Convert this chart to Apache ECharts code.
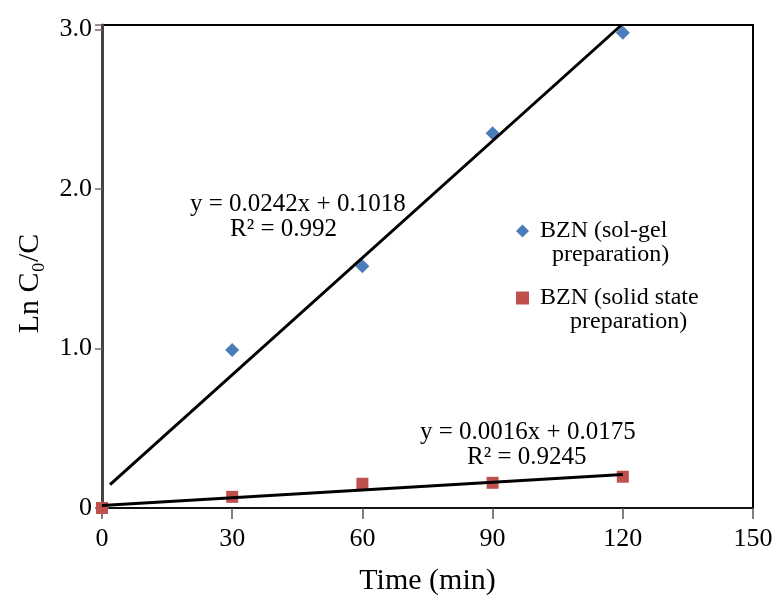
<!DOCTYPE html>
<html>
<head>
<meta charset="utf-8">
<script src="https://cdn.jsdelivr.net/npm/echarts@6/dist/echarts.min.js"></script>
<style>html,body{margin:0;padding:0;background:#fff;}#c{width:776px;height:601px;}</style>
</head>
<body>
<div id="c"></div>
<script>
// ---- data ----
var seriesNames = ['BZN (sol-gel', 'BZN (solid state'];
var legendSecondLines = ['   preparation)', '      preparation)'];
var solGel = [[0, 0], [30, 0.99], [60, 1.515], [90, 2.35], [120, 2.98]];
var solidState = [[0, 0], [30, 0.07], [60, 0.152], [90, 0.158], [120, 0.196]];
var solGelTrend = [[1.85, 0.147], [119.7, 3.028]];
var solidTrend = [[0, 0.016], [120, 0.21]];
var xTicks = [0, 30, 60, 90, 120, 150];
var yTicks = [0, 1, 2, 3];
var eq1 = ['y = 0.0242x + 0.1018', 'R\u00b2 = 0.992'];
var eq2 = ['y = 0.0016x + 0.0175', 'R\u00b2 = 0.9245'];

var FONT = '"Liberation Serif", "Times New Roman", serif';
var chart = echarts.init(document.getElementById('c'));

function yLabel(v) {
  if (v === 0) return '0';
  for (var i = 0; i < yTicks.length; i++) if (Math.abs(v - yTicks[i]) < 1e-9) return v.toFixed(1);
  return '';
}
function xLabel(v) {
  for (var i = 0; i < xTicks.length; i++) if (Math.abs(v - xTicks[i]) < 1e-9) return String(v);
  return '';
}

var option = {
  animation: false,
  backgroundColor: '#fff',
  textStyle: { fontFamily: FONT, color: '#000' },
  grid: { left: 102, right: 23, top: 25, bottom: 89.5, show: true, borderColor: '#000', borderWidth: 2, backgroundColor: 'transparent' },
  legend: {
    orient: 'vertical',
    left: 516, top: 195, padding: 0,
    itemGap: -5,
    itemWidth: 13, itemHeight: 13,
    data: seriesNames,
    formatter: function (name) { return '\n ' + name + '\n' + legendSecondLines[seriesNames.indexOf(name)]; },
    textStyle: { fontFamily: FONT, fontSize: 24, color: '#000', lineHeight: 24 }
  },
  xAxis: {
    type: 'value', min: 0, max: 150, interval: 30,
    name: 'Time (min)', nameLocation: 'middle', nameGap: 58,
    nameTextStyle: { fontFamily: FONT, fontSize: 30, color: '#000' },
    axisLine: { show: true, onZero: false, lineStyle: { color: '#111', width: 2 } },
    axisTick: { show: true, length: 11, lineStyle: { color: '#555', width: 1.5 } },
    axisLabel: { fontFamily: FONT, fontSize: 26, color: '#000', margin: 18, formatter: xLabel },
    splitLine: { show: false }
  },
  yAxis: {
    type: 'value', min: 0, max: 3.028, interval: 1,
    name: 'Ln C\u2080/C', nameLocation: 'middle', nameRotate: 90, nameGap: 57,
    nameTextStyle: { fontFamily: FONT, fontSize: 30, color: '#000', padding: [0, 34, 0, 0] },
    axisLine: { show: true, lineStyle: { color: '#444', width: 3 } },
    axisTick: { show: true, length: 7, lineStyle: { color: '#7a6a6a', width: 1.5 } },
    axisLabel: { fontFamily: FONT, fontSize: 26, color: '#000', margin: 10, formatter: yLabel },
    splitLine: { show: false }
  },
  series: [
    { name: seriesNames[0], type: 'scatter', symbol: 'diamond', symbolSize: 14, data: solGel,
      itemStyle: { color: '#4a7ebb', opacity: 1 }, z: 2 },
    { name: seriesNames[1], type: 'scatter', symbol: 'rect', symbolSize: 12, data: solidState,
      itemStyle: { color: '#c0504d', opacity: 1 }, z: 2 },
    { name: 'trend1', type: 'line', data: solGelTrend, symbol: 'none', showSymbol: false,
      lineStyle: { color: '#000', width: 3 }, z: 3, silent: true },
    { name: 'trend2', type: 'line', data: solidTrend, symbol: 'none', showSymbol: false,
      lineStyle: { color: '#000', width: 3 }, z: 3, silent: true }
  ],
  graphic: [
    { type: 'text', left: 190, top: 192, style: { text: eq1[0], font: '25px ' + FONT, fill: '#000' } },
    { type: 'text', left: 230, top: 217, style: { text: eq1[1], font: '25px ' + FONT, fill: '#000' } },
    { type: 'text', left: 420, top: 420, style: { text: eq2[0], font: '25px ' + FONT, fill: '#000' } },
    { type: 'text', left: 467, top: 445, style: { text: eq2[1], font: '25px ' + FONT, fill: '#000' } }
  ]
};
chart.setOption(option);
</script>
</body>
</html>
